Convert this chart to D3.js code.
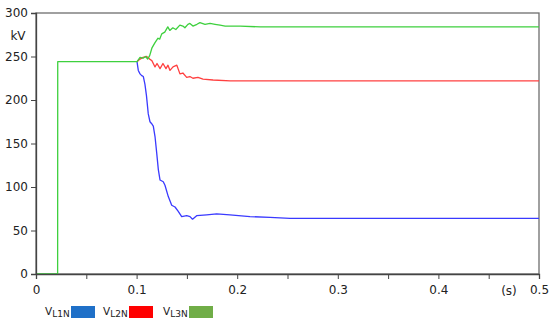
<!DOCTYPE html>
<html><head><meta charset="utf-8">
<script src="https://cdn.jsdelivr.net/npm/d3@7"></script>
<style>html,body{margin:0;padding:0;background:#fff;}svg{display:block;font-family:"DejaVu Sans",Verdana,sans-serif;}</style>
</head><body>
<svg id="chart" width="550" height="323"></svg>
<script>
// time (s) and voltage (kV) samples for each phase
// L1N and L2N coincide with L3N before the event (hidden underneath), so they start at 0.1 s
const tL1 = [0.1004,0.1017,0.1034,0.1051,0.1067,0.1083,0.1098,0.1116,0.1133,0.1148,0.1166,0.1183,0.120,0.1216,0.1233,0.1265,0.1282,0.1315,0.1349,0.1382,0.1414,0.1448,0.1498,0.1531,0.1556,0.1597,0.1697,0.1796,0.1928,0.2127,0.2326,0.2525,0.2724,0.5];
const vL1 = [244,234,230,228,227,218,205,184,175,173,170,158,139,120,108,106,102,89,79,77,72,66,67,66,63,67,68,69,68,66,65,64,64,64];
const tL2 = [0.1004,0.1034,0.1064,0.110,0.113,0.1153,0.1183,0.1203,0.1233,0.1262,0.1292,0.1312,0.1332,0.1362,0.140,0.1431,0.146,0.1498,0.153,0.156,0.161,0.166,0.176,0.193,0.5];
const vL2 = [244,247,249,250,247,245,238,242,236,242,236,240,234,238,240,230,231,226,227,225,226,224,223,222,222];
const tL3 = [0,0.0215,0.0216,0.1004,0.1034,0.1064,0.109,0.111,0.113,0.1153,0.1183,0.1213,0.123,0.125,0.128,0.131,0.133,0.136,0.139,0.143,0.146,0.148,0.151,0.153,0.156,0.160,0.163,0.168,0.173,0.178,0.183,0.188,0.203,0.223,0.5];
const vL3 = [0,0,244,244,249,248,250,247,251,260,266,271,270,276,278,284,280,283,281,286,285,283,287,288,285,287,289,287,288,287,286,285,285,284,284];
const seriesNames = ["L1N","L2N","L3N"];
const xTickLabels = ["0","0.1","0.2","0.3","0.4","0.5"];
const yTicks = [0,50,100,150,200,250,300];

const lineColors = ["#3a3aff","#ff4040","#3ed03e"];
const legendColors = ["#1f70c8","#ff0000","#70ad47"];

const svg = d3.select("#chart");
const m = {left:36, top:13, right:539, bottom:274};
const x = d3.scaleLinear().domain([0,0.5]).range([m.left,m.right]);
const y = d3.scaleLinear().domain([0,300]).range([m.bottom,m.top]);

// frame
svg.append("rect").attr("x",m.left).attr("y",m.top).attr("width",m.right-m.left).attr("height",m.bottom-m.top)
  .attr("fill","none").attr("stroke","#6e6e6e").attr("stroke-width",1.3);

// lines
const series = [[tL1,vL1],[tL2,vL2],[tL3,vL3]];
const line = d3.line().x(d=>x(d[0])).y(d=>y(d[1]));
series.forEach((s,i)=>{
  const pts = s[0].map((t,j)=>[t,s[1][j]]);
  svg.append("path").datum(pts).attr("d",line).attr("fill","none")
    .attr("stroke",lineColors[i]).attr("stroke-width",1.3).attr("stroke-linejoin","round");
});

// y axis
const yAxis = d3.axisLeft(y).tickValues(yTicks).tickSize(5).tickPadding(3);
const gy = svg.append("g").attr("transform",`translate(${m.left},0)`).call(yAxis);
gy.select(".domain").attr("stroke","#444").attr("stroke-width",1.3);
gy.selectAll(".tick line").attr("stroke","#444");
gy.selectAll("text").attr("font-size",12).attr("fill","#222").attr("font-family","DejaVu Sans");

// x axis
const xAxis = d3.axisBottom(x).tickValues(d3.range(0,0.5001,0.05)).tickSize(5).tickPadding(6)
  .tickFormat((d,i)=> i%2===0 ? xTickLabels[i/2] : "");
const gx = svg.append("g").attr("transform",`translate(0,${m.bottom})`).call(xAxis);
gx.select(".domain").attr("stroke","#444").attr("stroke-width",1.3);
gx.selectAll(".tick line").attr("stroke","#444");
gx.selectAll("text").attr("font-size",12).attr("fill","#222").attr("font-family","DejaVu Sans");

// unit labels
svg.append("text").attr("x",18).attr("y",40).attr("text-anchor","middle").attr("font-size",12).attr("fill","#222").text("kV");
svg.append("text").attr("x",509).attr("y",295).attr("text-anchor","middle").attr("font-size",12).attr("fill","#222").text("(s)");

// legend
const legX = [45,103,163];
seriesNames.forEach((n,i)=>{
  const t = svg.append("text").attr("x",legX[i]).attr("y",315).attr("fill","#222").attr("font-size",10.5);
  t.append("tspan").text("V");
  t.append("tspan").attr("dy",2).attr("font-size",9).text(n);
  svg.append("rect").attr("x",legX[i]+26).attr("y",306).attr("width",24).attr("height",12).attr("fill",legendColors[i]);
});
</script>
</body></html>
